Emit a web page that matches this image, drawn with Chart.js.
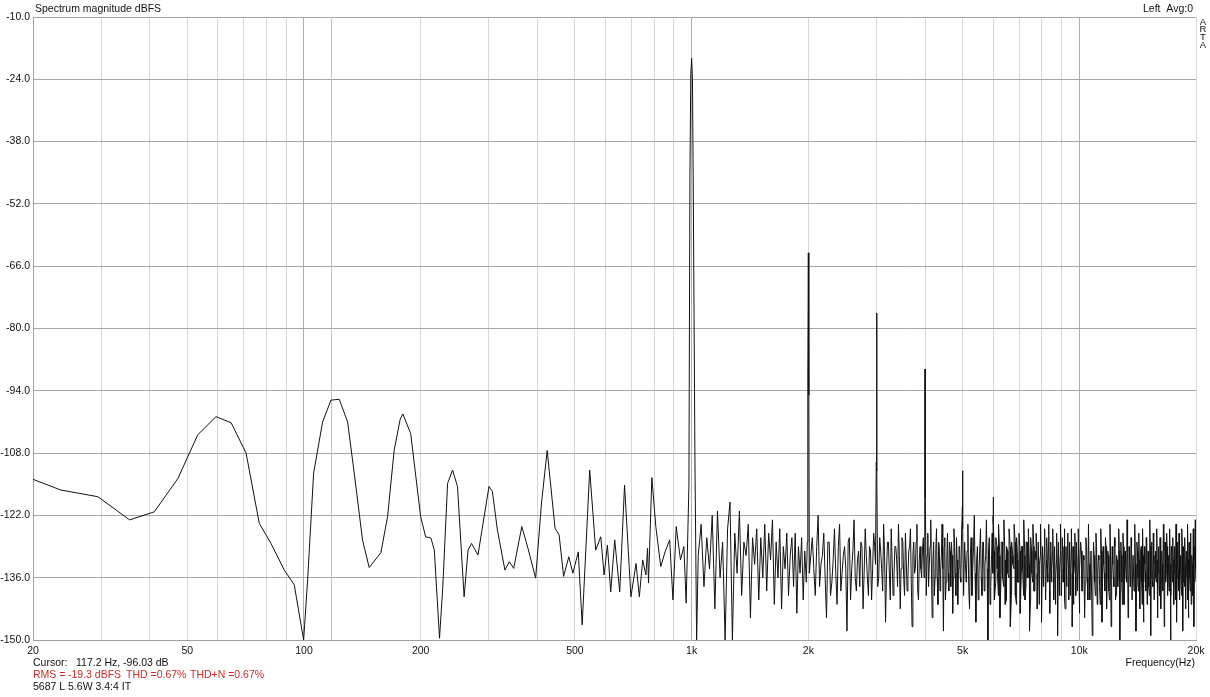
<!DOCTYPE html>
<html>
<head>
<meta charset="utf-8">
<title>Spectrum magnitude dBFS</title>
<script src="https://cdn.jsdelivr.net/npm/chart.js@4/dist/chart.umd.min.js"></script>
<style>
  body { margin: 0; background: #fff; }
  canvas { display: block; }
</style>
</head>
<body>
<canvas id="spectrum" width="1210" height="697"></canvas>
<script>
/* DATA */
// low end (Hz, dBFS)
const lowHz = [20, 23.6, 29.4, 35.5, 41.1, 47.3, 53.2, 59.3, 64.9, 70.9, 76.7, 82.2, 89.0, 94.4, 99.8,
  102.2, 105.9, 111.7, 117.4, 123.3, 129.6, 134.8, 141.6, 147.3, 157.9, 164.3, 170.9, 177.1, 179.9,
  188.5, 200, 206, 212.6, 216.9, 223.7, 228.1, 234.7, 241.7, 248.9, 258.9, 265, 270.6, 281.1,
  300.1, 306.2, 315.5, 329.9, 338.6, 347.6, 364.7, 378.3, 395.9, 410, 424, 444.3, 455.2, 467.5,
  482.1, 493.9, 510, 522, 545.8, 565.6, 582.9, 594.7, 606.4, 618.4, 633.3, 652.4, 671.4, 697.2,
  718.7, 733, 747.7, 762.1, 769.6, 774, 789.6, 808.4, 832.5, 854, 877.6, 895, 912.5, 936, 955, 968, 984];
const lowDb = [-113.9, -116.3, -117.8, -123.0, -121.2, -113.7, -103.9, -99.8, -101.2, -108.0, -123.8, -128.3, -134.3, -137.6, -150,
  -136.5, -112.5, -101, -96.1, -95.9, -101, -112.5, -127.5, -133.7, -130.4, -122.3, -107.3, -100.4, -99.2,
  -103.6, -122.3, -126.8, -127.1, -129.8, -149.6, -138, -114.8, -111.8, -115.5, -140.3, -129.8, -128.3, -130.9,
  -115.5, -116.6, -125.3, -134.3, -132.4, -133.9, -124.5, -129.4, -136.1, -119.2, -107.4, -124.9, -126.4, -135.7,
  -131.3, -135, -130.2, -146.6, -111.8, -129.8, -126.8, -135.4, -128.7, -139.2, -127.5, -139.2, -115.2, -140.3,
  -132.8, -140.3, -132, -135.4, -129.4, -137.2, -113.5, -124.5, -133.5, -130.2, -127.5, -141, -124.5, -132, -129, -141.7, -115.5];

// fundamental 1 kHz and its skirt
const fundHz = [990, 995, 1000, 1005, 1010, 1020, 1030];
const fundDb = [-45, -23, -19.3, -24, -50, -110, -150];

// noise floor + harmonics, [Hz, dBFS]
const noise1k2k = [[1040,-131],[1058,-124],[1076,-138],[1094,-127],[1112,-134],[1130,-122],[1148,-143],[1166,-121],
  [1184,-136],[1202,-128],[1220,-150],[1238,-125],[1256,-119],[1274,-150],[1292,-126],[1310,-135],[1328,-121],
  [1346,-140],[1364,-128],[1382,-131],[1400,-124],[1418,-145],[1436,-127],[1454,-133],[1472,-125],[1490,-141],
  [1508,-127],[1526,-136],[1544,-124],[1562,-139],[1580,-126],[1598,-132],[1616,-123],[1634,-142],[1652,-128],
  [1670,-136],[1688,-125],[1706,-143],[1724,-129],[1742,-134],[1760,-126],[1778,-140],[1796,-131],[1814,-127],
  [1832,-138],[1850,-126],[1868,-144],[1886,-129],[1904,-135],[1922,-127],[1940,-141],[1958,-130],[1976,-137],
  [1988,-128],[1994,-90],[2000,-63],[2006,-95],[2012,-135]];
const noise2k5k = [[2048,-127],[2084,-140],[2120,-122],[2156,-133],[2192,-126],[2228,-145],[2264,-128],[2300,-137],
  [2336,-125],[2372,-142],[2408,-124],[2444,-135],[2480,-129],[2516,-148],[2552,-127],[2588,-134],[2624,-123],
  [2660,-139],[2696,-130],[2732,-128],[2768,-143],[2804,-125],[2840,-136],[2876,-129],[2912,-141],[2948,-126],
  [2980,-133],[2994,-110],[3000,-76.5],[3006,-112],[3020,-138],[3056,-127],[3092,-134],[3128,-124],[3164,-146],
  [3200,-128],[3236,-135],[3272,-125],[3308,-140],[3344,-129],[3380,-132],[3416,-124],[3452,-143],[3488,-127],
  [3524,-136],[3560,-126],[3596,-139],[3632,-130],[3668,-125],[3704,-147],[3740,-128],[3776,-134],[3812,-124],
  [3848,-141],[3884,-129],[3920,-136],[3960,-127],[3994,-115],[4000,-89.1],[4006,-118],[4030,-140],[4066,-126],
  [4102,-133],[4138,-123],[4174,-145],[4210,-128],[4246,-136],[4282,-125],[4318,-142],[4354,-129],[4390,-134],
  [4426,-124],[4462,-148],[4498,-127],[4534,-137],[4570,-126],[4606,-139],[4642,-130],[4678,-128],[4714,-144],
  [4750,-125],[4786,-135],[4822,-127],[4858,-142],[4894,-129],[4930,-136],[4970,-126],[4994,-120],[5000,-112],
  [5006,-125],[5030,-140]];
const noise5k10k = [[5060,-128],[5110,-137],[5160,-124],[5210,-143],[5260,-127],[5310,-134],[5360,-122],[5410,-146],
  [5460,-129],[5510,-135],[5560,-125],[5610,-140],[5660,-128],[5710,-133],[5760,-123],[5810,-150],[5860,-127],
  [5910,-138],[5960,-126],[5994,-122],[6000,-117.9],[6006,-124],[6040,-141],[6090,-127],[6140,-134],[6190,-124],
  [6240,-145],[6290,-128],[6340,-136],[6390,-123],[6440,-142],[6490,-129],[6540,-135],[6590,-125],[6640,-147],
  [6690,-128],[6740,-133],[6790,-124],[6840,-140],[6890,-127],[6940,-137],[6990,-126],[7040,-144],[7090,-129],
  [7140,-134],[7190,-123],[7240,-141],[7290,-128],[7340,-136],[7390,-125],[7440,-148],[7490,-127],[7540,-135],
  [7590,-124],[7640,-139],[7690,-130],[7740,-126],[7790,-143],[7840,-128],[7890,-133],[7940,-124],[7990,-146],
  [8040,-129],[8090,-135],[8140,-125],[8190,-140],[8240,-127],[8290,-137],[8340,-124],[8390,-144],[8440,-128],
  [8490,-134],[8540,-125],[8590,-141],[8640,-129],[8690,-136],[8740,-126],[8790,-149],[8840,-128],[8890,-135],
  [8940,-124],[8990,-140],[9040,-127],[9090,-137],[9140,-125],[9190,-143],[9240,-129],[9290,-134],[9340,-126],
  [9390,-141],[9440,-128],[9490,-136],[9540,-125],[9590,-147],[9640,-129],[9690,-135],[9740,-126],[9790,-140],
  [9840,-128],[9890,-137],[9940,-125],[9990,-144]];
const noise10k20k = [[10080,-128],[10160,-139],[10240,-131],[10320,-145],[10400,-127],[10480,-136],[10560,-124],
  [10640,-141],[10720,-130],[10800,-149],[10880,-128],[10960,-137],[11040,-126],[11120,-142],[11200,-131],[11280,-138],
  [11360,-125],[11440,-146],[11520,-129],[11600,-135],[11680,-127],[11760,-143],[11840,-130],[11920,-139],[12000,-124],
  [12080,-147],[12160,-129],[12240,-136],[12320,-127],[12400,-141],[12480,-131],[12560,-138],[12640,-125],[12720,-150],
  [12800,-128],[12880,-137],[12960,-126],[13040,-142],[13120,-130],[13200,-136],[13280,-123],[13360,-145],[13440,-129],
  [13520,-138],[13600,-127],[13680,-141],[13760,-131],[13840,-139],[13920,-124],[14000,-148],[14080,-128],[14160,-136],
  [14240,-126],[14320,-143],[14400,-130],[14480,-137],[14560,-125],[14640,-146],[14720,-129],[14800,-135],[14880,-127],
  [14960,-142],[15040,-130],[15120,-138],[15200,-123],[15280,-149],[15360,-128],[15440,-137],[15520,-126],[15600,-141],
  [15680,-131],[15760,-136],[15840,-125],[15920,-145],[16000,-129],[16080,-138],[16160,-127],[16240,-143],[16320,-130],
  [16400,-135],[16480,-124],[16560,-147],[16640,-128],[16720,-137],[16800,-126],[16880,-140],[16960,-131],[17040,-139],
  [17120,-125],[17200,-150],[17280,-129],[17360,-136],[17440,-127],[17520,-142],[17600,-130],[17680,-137],[17760,-124],
  [17840,-146],[17920,-128],[18000,-135],[18080,-126],[18160,-141],[18240,-131],[18320,-138],[18400,-125],[18480,-148],
  [18560,-129],[18640,-136],[18720,-127],[18800,-143],[18880,-130],[18960,-137],[19040,-124],[19120,-145],[19200,-128],
  [19280,-136],[19360,-126],[19440,-142],[19520,-131],[19600,-138],[19680,-125],[19760,-147],[19840,-129],[19920,-123],
  [20000,-137]];
// extra bins inside the dense band above 2 kHz
const fill2k5k = [[2066,-134],[2102,-129],[2138,-138],[2174,-131],[2210,-136],[2246,-128],[2282,-140],[2318,-132],
  [2354,-135],[2390,-129],[2426,-139],[2462,-131],[2498,-134],[2534,-128],[2570,-141],[2606,-130],[2642,-136],
  [2678,-132],[2714,-138],[2750,-129],[2786,-135],[2822,-131],[2858,-140],[2894,-130],[2930,-134],[2966,-129],
  [3038,-136],[3074,-130],[3110,-139],[3146,-131],[3182,-135],[3218,-128],[3254,-141],[3290,-132],[3326,-136],
  [3362,-129],[3398,-138],[3434,-131],[3470,-134],[3506,-128],[3542,-140],[3578,-132],[3614,-136],[3650,-129],
  [3686,-137],[3722,-131],[3758,-135],[3794,-128],[3830,-139],[3866,-132],[3902,-134],[3938,-130],[3976,-136],
  [4048,-131],[4084,-138],[4120,-129],[4156,-135],[4192,-132],[4228,-140],[4264,-130],[4300,-136],[4336,-128],
  [4372,-139],[4408,-131],[4444,-134],[4480,-129],[4516,-141],[4552,-132],[4588,-135],[4624,-128],[4660,-138],
  [4696,-131],[4732,-136],[4768,-129],[4804,-140],[4840,-132],[4876,-134],[4912,-129],[4948,-137]];
const fill5k10k = [[5085,-133],[5135,-130],[5185,-138],[5235,-131],[5285,-140],[5335,-129],[5385,-135],[5435,-132],
  [5485,-141],[5535,-130],[5585,-136],[5635,-128],[5685,-139],[5735,-131],[5785,-134],[5835,-129],[5885,-142],
  [5935,-132],[5985,-135],[6035,-130],[6085,-137],[6135,-129],[6185,-140],[6235,-131],[6285,-135],[6335,-128],
  [6385,-138],[6435,-132],[6485,-141],[6535,-130],[6585,-136],[6635,-129],[6685,-139],[6735,-131],[6785,-134],
  [6835,-128],[6885,-142],[6935,-132],[6985,-137],[7035,-130],[7085,-135],[7135,-129],[7185,-140],[7235,-131],
  [7285,-138],[7335,-128],[7385,-136],[7435,-133],[7485,-141],[7535,-130],[7585,-137],[7635,-129],[7685,-139],
  [7735,-132],[7785,-135],[7835,-128],[7885,-142],[7935,-131],[7985,-136],[8035,-130],[8085,-138],[8135,-129],
  [8185,-141],[8235,-132],[8285,-135],[8335,-128],[8385,-139],[8435,-131],[8485,-137],[8535,-130],[8585,-136],
  [8635,-129],[8685,-142],[8735,-132],[8785,-135],[8835,-128],[8885,-140],[8935,-131],[8985,-137],[9035,-130],
  [9085,-134],[9135,-129],[9185,-141],[9235,-132],[9285,-138],[9335,-128],[9385,-136],[9435,-131],[9485,-140],
  [9535,-130],[9585,-135],[9635,-129],[9685,-142],[9735,-132],[9785,-136],[9835,-128],[9885,-139],[9935,-131],
  [9985,-137]];
const fill10k20k = [[10040,-134],[10120,-130],[10200,-139],[10280,-132],[10360,-137],[10440,-129],[10520,-141],
  [10600,-133],[10680,-136],[10760,-130],[10840,-138],[10920,-131],[11000,-140],[11080,-129],[11160,-135],[11240,-132],
  [11320,-142],[11400,-130],[11480,-137],[11560,-133],[11640,-139],[11720,-129],[11800,-136],[11880,-131],[11960,-141],
  [12040,-130],[12120,-135],[12200,-133],[12280,-138],[12360,-129],[12440,-140],[12520,-132],[12600,-136],[12680,-130],
  [12760,-139],[12840,-131],[12920,-142],[13000,-129],[13080,-135],[13160,-133],[13240,-137],[13320,-130],[13400,-140],
  [13480,-132],[13560,-136],[13640,-129],[13720,-141],[13800,-131],[13880,-135],[13960,-133],[14040,-138],[14120,-130],
  [14200,-139],[14280,-132],[14360,-136],[14440,-129],[14520,-142],[14600,-131],[14680,-137],[14760,-133],[14840,-139],
  [14920,-130],[15000,-135],[15080,-132],[15160,-140],[15240,-129],[15320,-136],[15400,-131],[15480,-138],[15560,-133],
  [15640,-141],[15720,-130],[15800,-137],[15880,-132],[15960,-135],[16040,-129],[16120,-140],[16200,-131],[16280,-136],
  [16360,-133],[16440,-139],[16520,-130],[16600,-142],[16680,-132],[16760,-135],[16840,-129],[16920,-138],[17000,-131],
  [17080,-136],[17160,-133],[17240,-140],[17320,-130],[17400,-137],[17480,-132],[17560,-135],[17640,-129],[17720,-141],
  [17800,-131],[17880,-136],[17960,-133],[18040,-139],[18120,-130],[18200,-135],[18280,-132],[18360,-140],[18440,-129],
  [18520,-137],[18600,-131],[18680,-138],[18760,-133],[18840,-136],[18920,-130],[19000,-141],[19080,-132],[19160,-135],
  [19240,-129],[19320,-139],[19400,-131],[19480,-137],[19560,-133],[19640,-140],[19720,-130],[19800,-136],[19880,-132],
  [19960,-134]];

// axis grid / labels
const gridHz = [20, 30, 40, 50, 60, 70, 80, 90, 100, 200, 300, 400, 500, 600, 700, 800, 900,
  1000, 2000, 3000, 4000, 5000, 6000, 7000, 8000, 9000, 10000, 20000];
const hzLabels = { 20: "20", 50: "50", 100: "100", 200: "200", 500: "500", 1000: "1k",
  2000: "2k", 5000: "5k", 10000: "10k", 20000: "20k" };
const cursorHz = 117.2;

/* SERIES */
let points = [];
lowHz.forEach((f, i) => points.push({ x: f, y: lowDb[i] }));
fundHz.forEach((f, i) => points.push({ x: f, y: fundDb[i] }));
[noise1k2k, noise2k5k, noise5k10k, noise10k20k, fill2k5k, fill5k10k, fill10k20k].forEach(seg => {
    seg.forEach(p => points.push({ x: p[0], y: p[1] }));
});
points.sort((a, b) => a.x - b.x);

const FONT = '"Liberation Sans", Arial, sans-serif';

/* TEXT + CURSOR */
const artaText = {
    id: "artaText",
    beforeDatasetsDraw(chart) {
        let ctx = chart.ctx, a = chart.chartArea;
        let x = chart.scales.x.getPixelForValue(cursorHz);
        ctx.save();
        ctx.strokeStyle = "#d2d24a";
        ctx.lineWidth = 1;
        ctx.beginPath();
        ctx.moveTo(Math.round(x) + 0.5, a.top);
        ctx.lineTo(Math.round(x) + 0.5, a.bottom);
        ctx.stroke();
        ctx.restore();
    },
    afterDraw(chart) {
        let ctx = chart.ctx;
        ctx.save();
        ctx.font = "10.5px " + FONT;
        ctx.fillStyle = "#111";
        ctx.textBaseline = "alphabetic";
        ctx.textAlign = "left";
        ctx.fillText("Spectrum magnitude dBFS", 35, 12);
        ctx.textAlign = "right";
        ctx.fillText("Left  Avg:0", 1193, 12);
        ctx.fillText("Frequency(Hz)", 1195, 666);
        ctx.textAlign = "left";
        ctx.fillText("Cursor:", 33, 666);
        ctx.fillText("117.2 Hz, -96.03 dB", 76, 666);
        ctx.fillText("5687 L 5.6W 3.4:4 IT", 33, 690);
        ctx.fillStyle = "#cc2a2a";
        ctx.fillText("RMS =", 33, 678);
        ctx.fillText("-19.3 dBFS", 68, 678);
        ctx.fillText("THD =0.67%", 126, 678);
        ctx.fillText("THD+N =0.67%", 190, 678);
        // vertical program tag
        ctx.fillStyle = "#111";
        ctx.font = "9.5px " + FONT;
        ctx.textAlign = "center";
        ["A", "R", "T", "A"].forEach((c, i) => ctx.fillText(c, 1203, 24.5 + i * 7.8));
        ctx.restore();
    }
};

/* CHART */
new Chart(document.getElementById("spectrum"), {
    type: "line",
    data: {
        datasets: [{
            data: points,
            borderColor: "#111",
            borderWidth: 1,
            pointRadius: 0,
            tension: 0,
            fill: false
        }]
    },
    options: {
        responsive: false,
        animation: false,
        devicePixelRatio: 1,
        layout: { padding: { top: 17, right: 14, left: 0, bottom: 0 } },
        plugins: { legend: { display: false }, tooltip: { enabled: false } },
        scales: {
            x: {
                type: "logarithmic",
                min: 20,
                max: 20000,
                afterBuildTicks: s => { s.ticks = gridHz.map(v => ({ value: v })); },
                afterFit: s => { s.height = 57; },
                ticks: {
                    autoSkip: false,
                    maxRotation: 0,
                    padding: 5,
                    color: "#111",
                    font: { family: FONT, size: 10.5 },
                    callback: v => hzLabels[v] || ""
                },
                grid: {
                    drawTicks: false,
                    color: c => ([100, 1000, 10000].includes(c.tick && c.tick.value) ? "#b0b0b0" : "#d6d6d6")
                },
                border: { color: "#a0a0a0" }
            },
            y: {
                min: -150,
                max: -10,
                afterFit: s => { s.width = 33; },
                ticks: {
                    stepSize: 14,
                    padding: 3,
                    color: "#111",
                    font: { family: FONT, size: 10.5 },
                    callback: v => v.toFixed(1)
                },
                grid: { drawTicks: false, color: "#a6a6a6" },
                border: { color: "#a0a0a0" }
            }
        }
    },
    plugins: [artaText]
});
</script>
</body>
</html>
